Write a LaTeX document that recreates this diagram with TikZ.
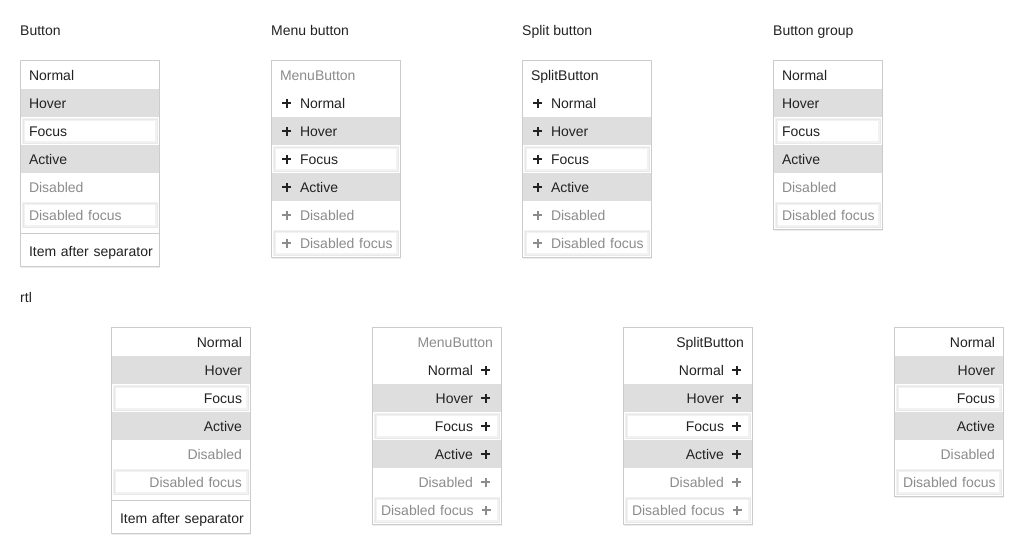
\documentclass[tikz,border=0pt]{standalone}
\usepackage{fontspec}
\setmainfont{Liberation Sans}
\usetikzlibrary{backgrounds,shadows}
\definecolor{ink}{HTML}{222222}
\definecolor{dim}{HTML}{8C8C8C}
\definecolor{hotbg}{HTML}{DEDEDE}
\definecolor{rim}{HTML}{CCCCCC}
\newcommand\plusmark{\rlap{\rule[4pt]{9pt}{2pt}}\hspace*{3.5pt}\rule[0.5pt]{2pt}{9pt}\hspace*{3.5pt}}
\newcommand\plusl[1]{\hspace*{2pt}\plusmark\hspace*{9pt}#1}
\newcommand\plusr[1]{#1\hspace*{8pt}\plusmark\hspace*{3pt}}
\begin{document}
\begin{tikzpicture}
[x=1pt,y=-1pt,
every node/.style={font=\fontsize{14}{16}\selectfont,text=ink},
row/.style={rectangle,fill=white,inner xsep=8pt,inner ysep=0pt,minimum height=28pt,text height=11pt,text depth=1pt,outer sep=0pt},
ltr/.style={row,align=left},
rtl/.style={row,align=right},
w140/.style={text width=122pt},
w130/.style={text width=112pt},
w110/.style={text width=92pt},
hot/.style={fill=hotbg},
off/.style={text=dim},
focus/.style={path picture={
  \draw[black!5,line width=2.5pt] ([shift={(2.5pt,-2.5pt)}]path picture bounding box.north west) rectangle ([shift={(-2.5pt,2.5pt)}]path picture bounding box.south east);
  \draw[black!9,line width=1pt] ([shift={(2pt,-2pt)}]path picture bounding box.north west) rectangle ([shift={(-2pt,2pt)}]path picture bounding box.south east);}},
sepbar/.style={rectangle,fill=rim,inner sep=0pt,minimum height=1pt},
frame/.style={draw=rim,fill=white,drop shadow={shadow xshift=0pt,shadow yshift=-1.5pt,opacity=0.15}},
heading/.style={anchor=base west,inner sep=0pt}]
\useasboundingbox (0,0) rectangle (1024,554);
% headings
\node[heading] at (20,35) (h1) {Button};
\node[heading] at (271,35) (h2) {Menu button};
\node[heading] at (522,35) (h3) {Split button};
\node[heading] at (773,35) (h4) {Button group};
\node[heading] at (20,302) (h5) {rtl};
% button
\node[ltr,w140] at (90,75) (b1) {Normal};
\node[ltr,w140,hot] at (90,103) (b2) {Hover};
\node[ltr,w140,focus] at (90,131) (b3) {Focus};
\node[ltr,w140,hot] at (90,159) (b4) {Active};
\node[ltr,w140,off] at (90,187) (b5) {Disabled};
\node[ltr,w140,off,focus] at (90,215) (b6) {\mbox{Disabled focus}};
\node[sepbar,minimum width=138pt] at (90,233.5) (s1) {};
\node[ltr,w140] at (90,251.5) (b7) {\mbox{Item after separator}};
% menu button
\node[ltr,w130,off] at (336,75) (m1) {MenuButton};
\node[ltr,w130] at (336,103) (m2) {\plusl{Normal}};
\node[ltr,w130,hot] at (336,131) (m3) {\plusl{Hover}};
\node[ltr,w130,focus] at (336,159) (m4) {\plusl{Focus}};
\node[ltr,w130,hot] at (336,187) (m5) {\plusl{Active}};
\node[ltr,w130,off] at (336,215) (m6) {\plusl{Disabled}};
\node[ltr,w130,off,focus] at (336,243) (m7) {\plusl{\mbox{Disabled focus}}};
% split button
\node[ltr,w130] at (587,75) (p1) {SplitButton};
\node[ltr,w130] at (587,103) (p2) {\plusl{Normal}};
\node[ltr,w130,hot] at (587,131) (p3) {\plusl{Hover}};
\node[ltr,w130,focus] at (587,159) (p4) {\plusl{Focus}};
\node[ltr,w130,hot] at (587,187) (p5) {\plusl{Active}};
\node[ltr,w130,off] at (587,215) (p6) {\plusl{Disabled}};
\node[ltr,w130,off,focus] at (587,243) (p7) {\plusl{\mbox{Disabled focus}}};
% button group
\node[ltr,w110] at (828,75) (g1) {Normal};
\node[ltr,w110,hot] at (828,103) (g2) {Hover};
\node[ltr,w110,focus] at (828,131) (g3) {Focus};
\node[ltr,w110,hot] at (828,159) (g4) {Active};
\node[ltr,w110,off] at (828,187) (g5) {Disabled};
\node[ltr,w110,off,focus] at (828,215) (g6) {\mbox{Disabled focus}};
% rtl button
\node[rtl,w140] at (181,342) (rb1) {Normal};
\node[rtl,w140,hot] at (181,370) (rb2) {Hover};
\node[rtl,w140,focus] at (181,398) (rb3) {Focus};
\node[rtl,w140,hot] at (181,426) (rb4) {Active};
\node[rtl,w140,off] at (181,454) (rb5) {Disabled};
\node[rtl,w140,off,focus] at (181,482) (rb6) {\mbox{Disabled focus}};
\node[sepbar,minimum width=138pt] at (181,500.5) (s2) {};
\node[rtl,w140] at (181,518.5) (rb7) {\mbox{Item after separator}};
% rtl menu button
\node[rtl,w130,off] at (437,342) (rm1) {MenuButton};
\node[rtl,w130] at (437,370) (rm2) {\plusr{Normal}};
\node[rtl,w130,hot] at (437,398) (rm3) {\plusr{Hover}};
\node[rtl,w130,focus] at (437,426) (rm4) {\plusr{Focus}};
\node[rtl,w130,hot] at (437,454) (rm5) {\plusr{Active}};
\node[rtl,w130,off] at (437,482) (rm6) {\plusr{Disabled}};
\node[rtl,w130,off,focus] at (437,510) (rm7) {\plusr{\mbox{Disabled focus}}};
% rtl split button
\node[rtl,w130] at (688,342) (rp1) {SplitButton};
\node[rtl,w130] at (688,370) (rp2) {\plusr{Normal}};
\node[rtl,w130,hot] at (688,398) (rp3) {\plusr{Hover}};
\node[rtl,w130,focus] at (688,426) (rp4) {\plusr{Focus}};
\node[rtl,w130,hot] at (688,454) (rp5) {\plusr{Active}};
\node[rtl,w130,off] at (688,482) (rp6) {\plusr{Disabled}};
\node[rtl,w130,off,focus] at (688,510) (rp7) {\plusr{\mbox{Disabled focus}}};
% rtl button group
\node[rtl,w110] at (949,342) (rg1) {Normal};
\node[rtl,w110,hot] at (949,370) (rg2) {Hover};
\node[rtl,w110,focus] at (949,398) (rg3) {Focus};
\node[rtl,w110,hot] at (949,426) (rg4) {Active};
\node[rtl,w110,off] at (949,454) (rg5) {Disabled};
\node[rtl,w110,off,focus] at (949,482) (rg6) {\mbox{Disabled focus}};
% frames
\begin{scope}[on background layer]
\draw[frame] ([shift={(-0.5pt,0.5pt)}]b1.north west) rectangle ([shift={(0.5pt,-0.5pt)}]b7.south east);
\draw[frame] ([shift={(-0.5pt,0.5pt)}]m1.north west) rectangle ([shift={(0.5pt,-0.5pt)}]m7.south east);
\draw[frame] ([shift={(-0.5pt,0.5pt)}]p1.north west) rectangle ([shift={(0.5pt,-0.5pt)}]p7.south east);
\draw[frame] ([shift={(-0.5pt,0.5pt)}]g1.north west) rectangle ([shift={(0.5pt,-0.5pt)}]g6.south east);
\draw[frame] ([shift={(-0.5pt,0.5pt)}]rb1.north west) rectangle ([shift={(0.5pt,-0.5pt)}]rb7.south east);
\draw[frame] ([shift={(-0.5pt,0.5pt)}]rm1.north west) rectangle ([shift={(0.5pt,-0.5pt)}]rm7.south east);
\draw[frame] ([shift={(-0.5pt,0.5pt)}]rp1.north west) rectangle ([shift={(0.5pt,-0.5pt)}]rp7.south east);
\draw[frame] ([shift={(-0.5pt,0.5pt)}]rg1.north west) rectangle ([shift={(0.5pt,-0.5pt)}]rg6.south east);
\end{scope}
\end{tikzpicture}
\end{document}
